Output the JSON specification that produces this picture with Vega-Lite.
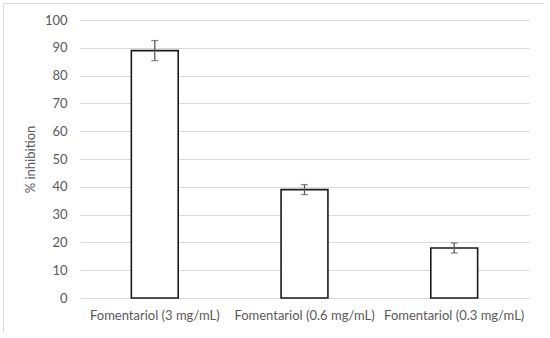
{
  "$schema": "https://vega.github.io/schema/vega-lite/v6.json",
  "autosize": {"type": "none"},
  "padding": {"left": 3, "top": 3, "right": 0, "bottom": 0},
  "width": 541,
  "height": 330,
  "background": "white",
  "config": {
    "view": {"stroke": "#d9d9d9", "strokeWidth": 1},
    "font": "Lato",
    "axis": {"labelFont": "Lato", "titleFont": "Lato", "labelColor": "#595959", "titleColor": "#595959", "labelFontSize": 13, "titleFontSize": 13, "titleFontWeight": "normal"}
  },
  "data": {
    "values": [
      {"treatment": "Fomentariol (3 mg/mL)", "inhibition": 89, "err": 3.6},
      {"treatment": "Fomentariol (0.6 mg/mL)", "inhibition": 39, "err": 1.8},
      {"treatment": "Fomentariol (0.3 mg/mL)", "inhibition": 18, "err": 1.8}
    ]
  },
  "encoding": {
    "x": {
      "field": "treatment", "type": "nominal", "sort": null,
      "scale": {"range": [77, 526], "paddingInner": 0.687, "paddingOuter": 0.343},
      "axis": {"title": null, "labelAngle": 0, "domain": false, "ticks": false, "grid": false, "offset": -35, "labelPadding": 11}
    },
    "y": {
      "field": "inhibition", "type": "quantitative", "title": "% inhibition",
      "scale": {"domain": [0, 100], "range": [295, 17], "nice": false},
      "axis": {"title": "% inhibition", "values": [0,10,20,30,40,50,60,70,80,90,100], "labelOverlap": false, "domain": false, "ticks": false, "grid": true, "gridColor": "#d9d9d9", "gridWidth": 1, "offset": -77, "labelPadding": 13, "titlePadding": 7}
    }
  },
  "layer": [
    {
      "mark": {"type": "bar", "fill": "white", "stroke": "#1a1a1a", "strokeWidth": 1.6}
    },
    {
      "mark": {"type": "errorbar", "ticks": {"size": 7, "color": "#595959", "thickness": 1.3}, "rule": {"color": "#595959", "strokeWidth": 1.3}},
      "encoding": {
        "yError": {"field": "err"}
      }
    }
  ]
}
